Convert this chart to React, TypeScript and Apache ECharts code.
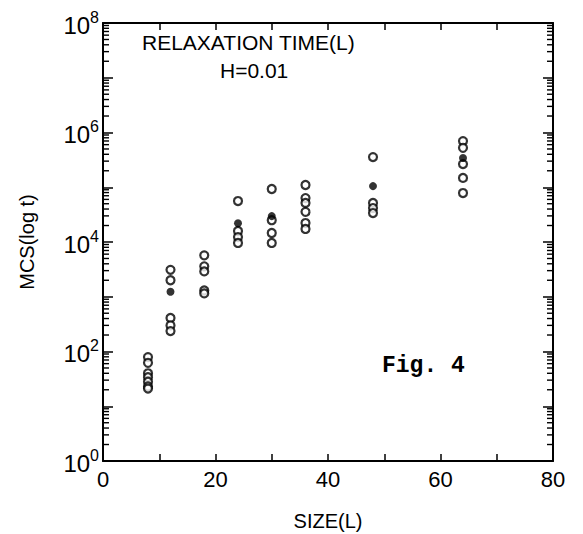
import React, { useEffect, useRef } from "react";
import * as echarts from "echarts";

const sizes = [8, 12, 18, 24, 30, 36, 48, 64];
const openValues: number[][] = [
  [79, 62, 40, 34, 28, 23, 21],
  [3100, 2000, 410, 300, 236],
  [5700, 3600, 2900, 1300, 1150],
  [56000, 15900, 12300, 9600],
  [93000, 25000, 14600, 9600],
  [110000, 63500, 51700, 35500, 22200, 17300],
  [356000, 51700, 41700, 33800],
  [697000, 524000, 265000, 148000, 78400],
];
const filledSizes = [12, 24, 30, 48, 64];
const filledValues = [1230, 22000, 29700, 105000, 342000];
const xTickLabels = ["0", "20", "40", "60", "80"];
const yLabelExponents = [0, 2, 4, 6, 8];

const FONT = "Liberation Sans";

export default function App() {
  const ref = useRef<HTMLDivElement>(null);
  useEffect(() => {
    document.body.style.margin = "0";
    if (!ref.current) return;
    const chart = echarts.init(ref.current, null, { renderer: "svg" });

    const openData: [number, number][] = [];
    sizes.forEach((s, i) => openValues[i].forEach((v) => openData.push([s, v])));
    const filledData: [number, number][] = filledSizes.map((s, i) => [s, filledValues[i]]);

    const minorLeft: [number, number][] = [];
    const minorRight: [number, number][] = [];
    for (let e = 0; e < 8; e++) {
      for (let m = 2; m <= 9; m++) {
        const v = m * Math.pow(10, e);
        minorLeft.push([0, v]);
        minorRight.push([80, v]);
      }
    }

    const axisLine = { show: true, onZero: false, lineStyle: { color: "#000", width: 2 } };
    const tickStyle = { color: "#000", width: 1.5 };

    chart.setOption({
      animation: false,
      backgroundColor: "#fff",
      grid: { left: 103, right: 30, top: 23, bottom: 73, containLabel: false, outerBoundsMode: "none" },
      xAxis: [
        {
          type: "value",
          min: 0,
          max: 80,
          interval: 10,
          axisLine,
          axisTick: { show: true, inside: true, length: 7, lineStyle: tickStyle },
          splitLine: { show: false },
          axisLabel: {
            color: "#000",
            fontFamily: FONT,
            fontSize: 22,
            margin: 7,
            formatter: (v: number) => (xTickLabels.includes(String(v)) ? String(v) : ""),
          },
          name: "SIZE(L)",
          nameLocation: "middle",
          nameGap: 50,
          nameTextStyle: { color: "#000", fontFamily: FONT, fontSize: 20 },
        },
        {
          type: "value",
          position: "top",
          min: 0,
          max: 80,
          interval: 10,
          axisLine,
          axisTick: { show: true, inside: true, length: 7, lineStyle: tickStyle },
          axisLabel: { show: false },
          splitLine: { show: false },
        },
      ],
      yAxis: [
        {
          type: "log",
          logBase: 10,
          min: 1,
          max: 1e8,
          interval: 1,
          position: "left",
          axisLine,
          axisTick: { show: true, inside: true, length: 10, lineStyle: tickStyle },
          splitLine: { show: false },
          axisLabel: {
            color: "#000",
            margin: 4,
            formatter: (v: number) => {
              const e = Math.round(Math.log10(v));
              return yLabelExponents.includes(e) ? `{b|10}{s|${e}}` : "";
            },
            rich: {
              b: { fontFamily: FONT, fontSize: 24, color: "#000", verticalAlign: "bottom" },
              s: { fontFamily: FONT, fontSize: 16, color: "#000", verticalAlign: "top", padding: [0, 0, 12, 0] },
            },
          },
          name: "MCS(log t)",
          nameLocation: "middle",
          nameGap: 66,
          nameTextStyle: { color: "#000", fontFamily: FONT, fontSize: 20 },
        },
        {
          type: "log",
          logBase: 10,
          position: "right",
          min: 1,
          max: 1e8,
          interval: 1,
          axisLine,
          axisTick: { show: true, inside: true, length: 10, lineStyle: tickStyle },
          axisLabel: { show: false },
          splitLine: { show: false },
        },
      ],
      series: [
        {
          type: "custom",
          coordinateSystem: "cartesian2d",
          xAxisIndex: 0,
          yAxisIndex: 0,
          clip: false,
          silent: true,
          z: 10,
          data: minorLeft.concat(minorRight),
          encode: { x: 0, y: 1 },
          renderItem: (params: any, api: any) => {
            const p = api.coord([api.value(0), api.value(1)]);
            const dir = api.value(0) > 40 ? -1 : 1;
            return {
              type: "line",
              shape: { x1: p[0], y1: p[1], x2: p[0] + dir * 6, y2: p[1] },
              style: { stroke: "#000", lineWidth: 1.4 },
            };
          },
        },
        {
          type: "scatter",
          xAxisIndex: 0,
          yAxisIndex: 0,
          data: openData,
          symbol: "circle",
          symbolSize: 8,
          itemStyle: { color: "#fff", borderColor: "#000", borderWidth: 2.2 },
        },
        {
          type: "scatter",
          xAxisIndex: 0,
          yAxisIndex: 0,
          data: filledData,
          symbol: "circle",
          symbolSize: 8,
          itemStyle: { color: "#000" },
        },
      ],
      graphic: [
        {
          type: "text",
          left: 142,
          top: 32,
          style: { text: "RELAXATION TIME(L)", font: `21px "${FONT}"`, fill: "#000" },
        },
        {
          type: "text",
          left: 220,
          top: 60,
          style: { text: "H=0.01", font: `21px "${FONT}"`, fill: "#000" },
        },
        {
          type: "text",
          left: 382,
          top: 354,
          style: { text: "Fig. 4", font: `bold 23px "Liberation Mono"`, fill: "#000" },
        },
      ],
    });
    return () => chart.dispose();
  }, []);
  return <div ref={ref} style={{ width: 583, height: 534 }} />;
}
